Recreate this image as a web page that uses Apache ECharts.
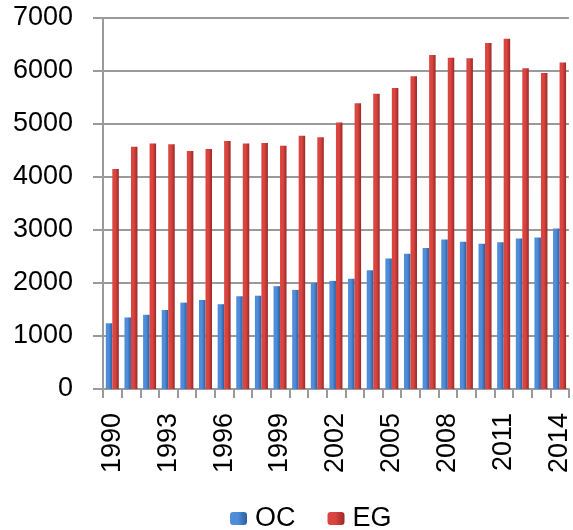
<!DOCTYPE html>
<html>
<head>
<meta charset="utf-8">
<script src="https://cdn.jsdelivr.net/npm/echarts@6/dist/echarts.min.js"></script>
<style>html,body{margin:0;padding:0;background:#fff;}#c{width:573px;height:530px;}</style>
</head>
<body>
<div id="c"></div>
<script>
var years = ['1990','1991','1992','1993','1994','1995','1996','1997','1998','1999','2000','2001','2002','2003','2004','2005','2006','2007','2008','2009','2010','2011','2012','2013','2014'];
var ocValues = [1240,1350,1400,1490,1630,1680,1600,1750,1760,1940,1870,2000,2040,2080,2240,2460,2550,2660,2820,2780,2740,2770,2840,2860,3030];
var egValues = [4150,4570,4630,4620,4490,4530,4680,4630,4640,4590,4780,4750,5030,5390,5570,5680,5900,6300,6250,6240,6530,6610,6050,5960,6160];
var seriesNames = ['OC','EG'];
var yTicks = [0,1000,2000,3000,4000,5000,6000,7000];

var font = 'Liberation Sans';
function grad(l, r) {
  return new echarts.graphic.LinearGradient(0, 0, 1, 0, [
    {offset: 0, color: l}, {offset: 0.45, color: l}, {offset: 1, color: r}
  ]);
}
var chart = echarts.init(document.getElementById('c'), null, {renderer: 'canvas'});
chart.setOption({
  animation: false,
  backgroundColor: '#ffffff',
  grid: {left: 103, right: 0, top: 18, bottom: 141, containLabel: false},
  legend: {
    data: seriesNames,
    top: 500, left: 225,
    itemWidth: 17, itemHeight: 13, itemGap: 32,
    textStyle: {fontFamily: font, fontSize: 27, color: '#000', padding: [0, 0, 0, 3]}
  },
  xAxis: {
    type: 'category',
    data: years,
    axisLine: {show: true, lineStyle: {color: '#9a9a9a', width: 2}},
    axisTick: {show: true, interval: 0, length: 9, lineStyle: {color: '#9a9a9a', width: 2}},
    axisLabel: {interval: 2, rotate: 90, margin: 24, fontFamily: font, fontSize: 27, color: '#000'}
  },
  yAxis: {
    type: 'value',
    min: yTicks[0], max: yTicks[yTicks.length - 1], interval: 1000,
    axisLine: {show: true, lineStyle: {color: '#9a9a9a', width: 2}},
    axisTick: {show: true, length: 10, lineStyle: {color: '#9a9a9a', width: 2}},
    splitLine: {show: true, lineStyle: {color: '#9a9a9a', width: 2}},
    axisLabel: {margin: 30, fontFamily: font, fontSize: 27, color: '#000', formatter: function (v) { return String(v); }}
  },
  series: [
    {
      name: seriesNames[0], type: 'bar', data: ocValues,
      barWidth: 6.5, barGap: '0%',
      itemStyle: {color: grad('#4f8ddb', '#2c5e9f')}
    },
    {
      name: seriesNames[1], type: 'bar', data: egValues,
      barWidth: 6.5, barGap: '0%',
      itemStyle: {color: grad('#da4540', '#9b2826')}
    }
  ]
});
</script>
</body>
</html>
